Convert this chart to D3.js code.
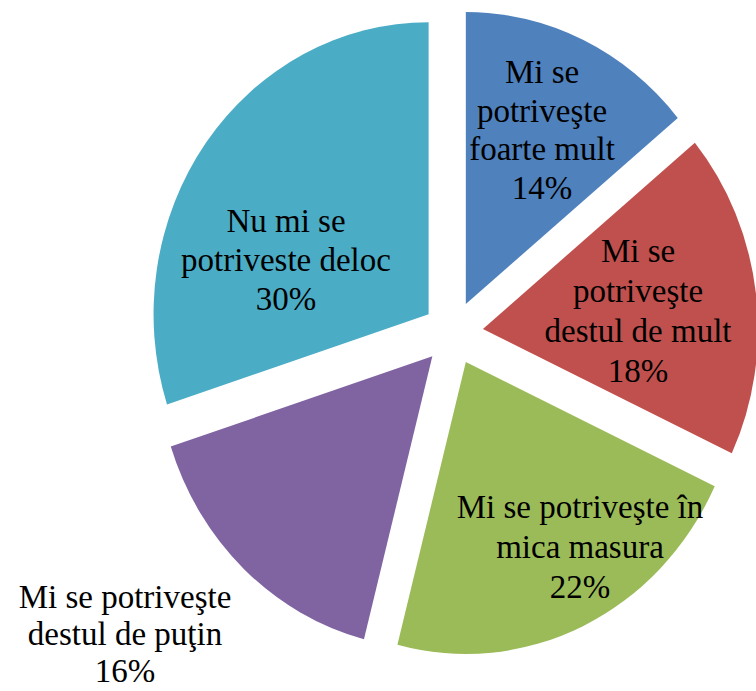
<!DOCTYPE html>
<html>
<head>
<meta charset="utf-8">
<script src="https://cdn.jsdelivr.net/npm/d3@7/dist/d3.min.js"></script>
<style>
  html, body { margin: 0; padding: 0; background: #fff; }
  svg { display: block; }
</style>
</head>
<body>
<svg id="chart" width="756" height="691"></svg>
<script>
// ---- data ----
const categories = [
  ["Mi se", "potriveşte", "foarte mult"],
  ["Mi se", "potriveşte", "destul de mult"],
  ["Mi se potriveşte în", "mica masura"],
  ["Mi se potriveşte", "destul de puţin"],
  ["Nu mi se", "potriveste deloc"]
];
const values = [14, 18, 22, 16, 30];
const colors = ["#4F81BD", "#C0504D", "#9BBB59", "#8064A2", "#4BACC6"];

// ---- layout ----
const W = 756, H = 691;
const cx = 453, cy = 333;      // pie centre
const radius = 292;
const sx = 0.942;              // horizontal squash of the original picture
const explode = 32;
const fontSize = 33;
// label block centres (x, first baseline, line spacing)
const labelLayout = [
  { x: 542, y: 83,  dy: 38.7 },
  { x: 638, y: 262, dy: 40 },
  { x: 580, y: 518, dy: 40 },
  { x: 125, y: 608, dy: 37 },
  { x: 286, y: 232, dy: 39 }
];

const svg = d3.select("#chart");
const data = values.map((v, i) => ({ value: v, label: categories[i], color: colors[i], i }));

const pie = d3.pie().value(d => d.value).sort(null).startAngle(0).endAngle(2 * Math.PI);
const arc = d3.arc().innerRadius(0).outerRadius(radius);
const arcs = pie(data);
const total = d3.sum(values);

const g = svg.append("g").attr("transform", `translate(${cx},${cy}) scale(${sx},1)`);
g.selectAll("path")
  .data(arcs)
  .join("path")
  .attr("d", arc)
  .attr("fill", d => d.data.color)
  .attr("transform", d => {
    const a = (d.startAngle + d.endAngle) / 2;
    return `translate(${explode * Math.sin(a)},${-explode * Math.cos(a)})`;
  });

const labels = svg.append("g")
  .attr("font-family", "'Liberation Serif', 'DejaVu Serif', serif")
  .attr("font-size", fontSize)
  .attr("fill", "#000")
  .attr("text-anchor", "middle");

arcs.forEach((d, k) => {
  const L = labelLayout[k];
  const lines = d.data.label.concat([Math.round(d.data.value / total * 100) + "%"]);
  const t = labels.append("text");
  lines.forEach((ln, j) => {
    t.append("tspan").attr("x", L.x).attr("y", L.y + j * L.dy).text(ln);
  });
});
</script>
</body>
</html>
